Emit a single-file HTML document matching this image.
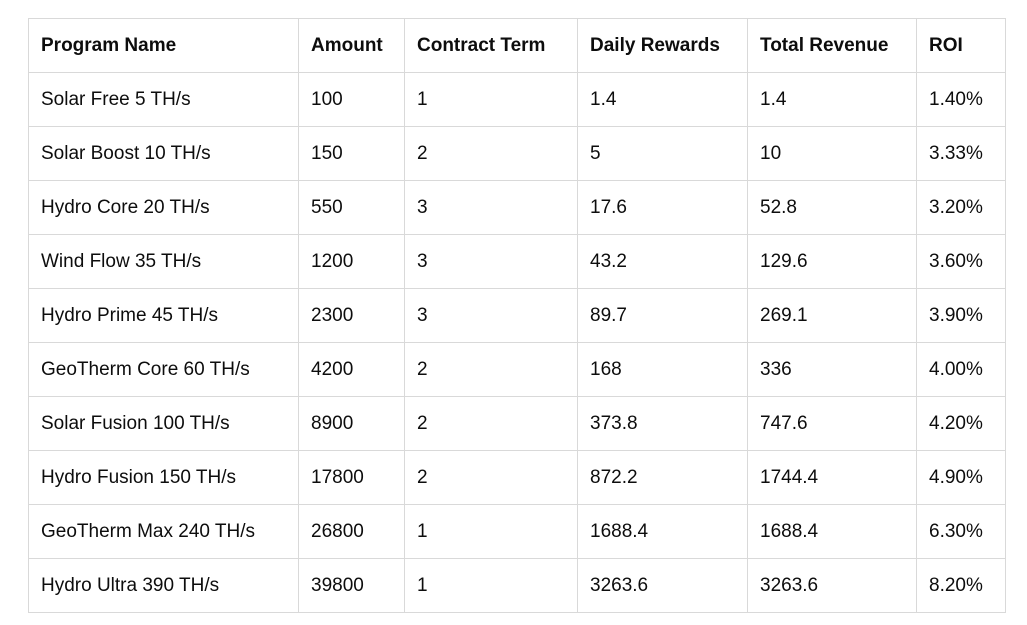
<!DOCTYPE html>
<html><head><style>
html,body{margin:0;padding:0;background:#fff;width:1027px;height:625px;overflow:hidden}
table{position:absolute;left:28px;top:18px;border-collapse:collapse;font-family:"Liberation Sans",sans-serif;font-size:19px;color:#0d0d0d}
td,th{border:1px solid #d9d9d9;height:54px;padding:0 12px;text-align:left;box-sizing:border-box;white-space:nowrap}
th{font-weight:bold}
</style></head><body>
<table>
<colgroup><col style="width:270px"><col style="width:106px"><col style="width:173px"><col style="width:170px"><col style="width:169px"><col style="width:89px"></colgroup>
<tr><th>Program Name</th><th>Amount</th><th>Contract Term</th><th>Daily Rewards</th><th>Total Revenue</th><th>ROI</th></tr>
<tr><td>Solar Free 5 TH/s</td><td>100</td><td>1</td><td>1.4</td><td>1.4</td><td>1.40%</td></tr>
<tr><td>Solar Boost 10 TH/s</td><td>150</td><td>2</td><td>5</td><td>10</td><td>3.33%</td></tr>
<tr><td>Hydro Core 20 TH/s</td><td>550</td><td>3</td><td>17.6</td><td>52.8</td><td>3.20%</td></tr>
<tr><td>Wind Flow 35 TH/s</td><td>1200</td><td>3</td><td>43.2</td><td>129.6</td><td>3.60%</td></tr>
<tr><td>Hydro Prime 45 TH/s</td><td>2300</td><td>3</td><td>89.7</td><td>269.1</td><td>3.90%</td></tr>
<tr><td>GeoTherm Core 60 TH/s</td><td>4200</td><td>2</td><td>168</td><td>336</td><td>4.00%</td></tr>
<tr><td>Solar Fusion 100 TH/s</td><td>8900</td><td>2</td><td>373.8</td><td>747.6</td><td>4.20%</td></tr>
<tr><td>Hydro Fusion 150 TH/s</td><td>17800</td><td>2</td><td>872.2</td><td>1744.4</td><td>4.90%</td></tr>
<tr><td>GeoTherm Max 240 TH/s</td><td>26800</td><td>1</td><td>1688.4</td><td>1688.4</td><td>6.30%</td></tr>
<tr><td>Hydro Ultra 390 TH/s</td><td>39800</td><td>1</td><td>3263.6</td><td>3263.6</td><td>8.20%</td></tr>
</table>
</body></html>
